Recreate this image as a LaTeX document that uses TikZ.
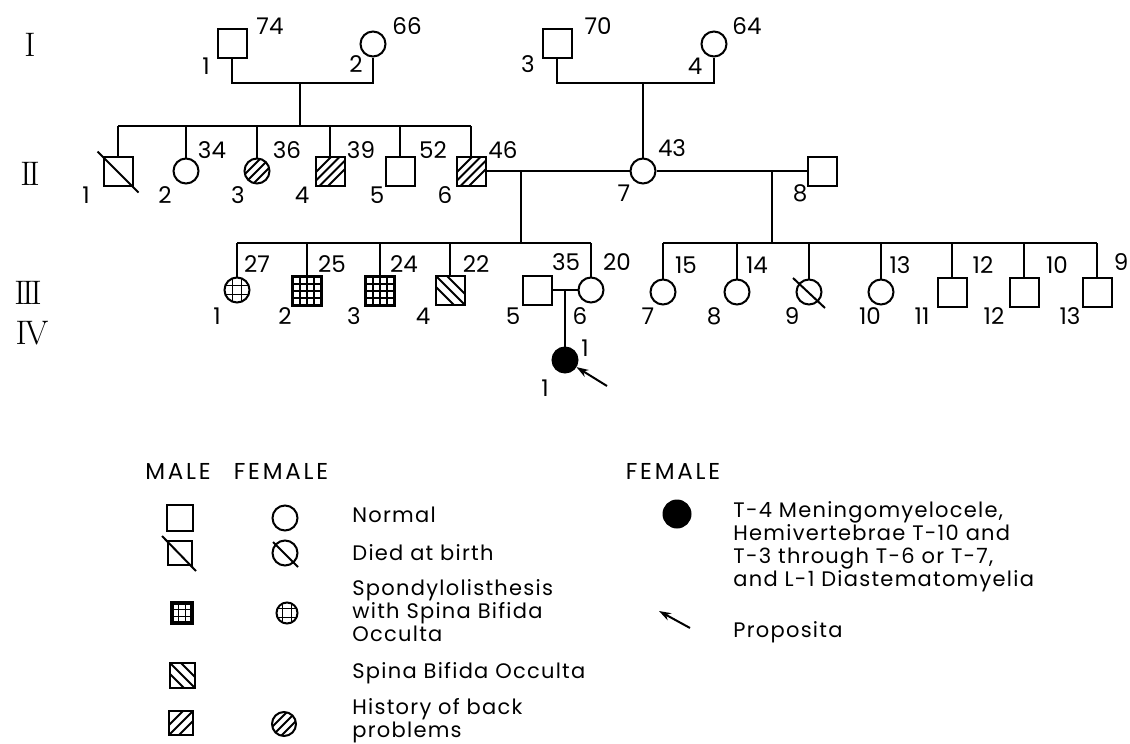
\documentclass[tikz,border=0pt]{standalone}
\usepackage{fontspec}
\newfontfamily\pops{Poppins}
\newfontfamily\popsls{Poppins}[LetterSpace=6]
\newfontfamily\popshd{Poppins}[LetterSpace=12]
\usetikzlibrary{arrows.meta,calc}

\tikzset{
  pline/.style={line width=1pt},
  male/.style={draw, line width=1pt, rectangle, minimum size=14.5pt, inner sep=0pt},
  female/.style={draw, line width=1pt, circle, minimum size=12.5pt, inner sep=0pt},
  affected/.style={female, fill=black},
  % hatching inside a symbol
  fwdhatch/.style={path picture={
      \foreach \k in {#1}
        \draw[line width=0.9pt] ($(path picture bounding box.center)+(\k-20,20)$) -- ++(40,-40);}},
  fwdhatch/.default={-13,-4.5,4.5,13},
  bkhatch/.style={path picture={
      \foreach \k in {-11,0,11}
        \draw[line width=0.9pt] ($(path picture bounding box.center)+(\k-20,-20)$) -- ++(40,40);}},
  gridfill/.style={path picture={
      \foreach \k in {#1} {
        \draw[line width=0.8pt] ([xshift=\k*0.5pt]path picture bounding box.north) -- ([xshift=\k*0.5pt]path picture bounding box.south);
        \draw[line width=0.8pt] ([yshift=\k*0.5pt]path picture bounding box.west) -- ([yshift=\k*0.5pt]path picture bounding box.east);
      }}},
  gridfill/.default={-7,0,7},
  malefwd/.style={male, fwdhatch},
  femalefwd/.style={female, fwdhatch={-9,0,9}},
  malebk/.style={male, bkhatch},
  malegrid/.style={male, line width=1.6pt, gridfill},
  femalegrid/.style={female, gridfill={-4.5,4.5}},
  numlbl/.style={font=\pops\fontsize{11.5}{12}\selectfont, inner sep=0pt},
  genlbl/.style={font=\fontsize{17}{17}\selectfont, inner sep=0pt},
  lghead/.style={font=\popshd\fontsize{11.5}{12}\selectfont, inner sep=0pt},
  lgtext/.style={font=\popsls\fontsize{10.5}{11.5}\selectfont, anchor=west, align=left, inner sep=0pt},
  protip/.style={-{Stealth[length=6pt,width=4pt]}}
}

\begin{document}
\begin{tikzpicture}[x=0.5pt, y=-0.5pt]
\useasboundingbox (0,0) rectangle (1130,744);

% Generations
\node[genlbl] (g1) at (30,45) {I};
\node[genlbl] (g2) at (30,174) {I\kern-1.5pt I};
\node[genlbl] (g3) at (28,293) {I\kern-1.5pt I\kern-1.5pt I};
\node[genlbl] (g4) at (32,333) {I\kern-1pt V};

% Individuals
\foreach \nm/\st/\x/\y in {I1/male/232/43, I2/female/373/44, I3/male/557/43, I4/female/714/44,
    II1/male/118/171, II2/female/186/171, II3/femalefwd/257/171, II4/malefwd/330/171,
    II5/male/400/171, II6/malefwd/471/171, II7/female/643/171, II8/male/822/171,
    III1/femalegrid/237/290, III2/malegrid/307/291, III3/malegrid/380/291, III4/malebk/450/290,
    III5/male/537/290, III6/female/591/290, III7/female/663/292, III8/female/737/292,
    III9/female/809/292, III10/female/881/292, III11/male/952/292, III12/male/1024/292,
    III13/male/1097/292, IV1/affected/565/360}
  \node[\st] (\nm) at (\x,\y) {};

% Died at birth
\draw[pline] ($(II1.north west)+(-5,-4)$) -- ($(II1.south east)+(5,6)$);
\draw[pline] ($(III9)+(-16,-14)$) -- ($(III9)+(16,16)$);

% Ages
\foreach \nm/\x/\y/\t in {I1/270/26/74, I2/407/26/66, I3/598/26/70, I4/747/26/64,
    II2/212/150/34, II3/287/150/36, II4/361/150/39, II5/433/150/52, II6/503/150/46, II7/672/148/43,
    III1/257/264/27, III2/332/264/25, III3/404/264/24, III4/476/264/22, III5/566/262/35,
    III6/617/262/20, III7/686/265/15, III8/757/265/14, III10/900/265/13, III11/983/265/12,
    III12/1057/265/10, III13/1121/262/9, IV1/585/348/1}
  \node[numlbl] (a-\nm) at (\x,\y) {\t};

% Numbers within generation
\foreach \nm/\x/\y/\t in {I1/206/66/1, I2/356/64/2, I3/528/64/3, I4/695/66/4,
    II1/86/195/1, II2/165/195/2, II3/238/195/3, II4/302/195/4, II5/377/195/5, II6/445/195/6,
    II7/624/193/7, II8/800/193/8,
    III1/217/316/1, III2/285/316/2, III3/354/316/3, III4/423/316/4, III5/513/316/5,
    III6/580/316/6, III7/648/316/7, III8/714/316/8, III9/792/316/9, III10/870/316/10,
    III11/922/316/11, III12/994/316/12, III13/1070/316/13, IV1/545/388/1}
  \node[numlbl] (n-\nm) at (\x,\y) {\t};

% Matings and sibships
\coordinate (m12) at (300,83);
\coordinate (s2) at (300,126);
\draw[pline] (I1.south) |- (m12) -| (I2.south);
\draw[pline] (m12) -- (s2);
\draw[pline] (II1.north |- s2) -- (II6.north |- s2);
\foreach \c in {II1,II2,II3,II4,II5,II6}
  \draw[pline] (\c.north) -- (\c.north |- s2);

\coordinate (m34) at (643,83);
\draw[pline] (I3.south) |- (m34) -| (I4.south);
\draw[pline] (m34) -- (II7.north);

\draw[pline] (II6.east) -- (II7.west);
\draw[pline] (II7.east) -- (II8.west);

\coordinate (m67) at (521,171);
\coordinate (s3a) at (521,243);
\draw[pline] (m67) -- (s3a);
\draw[pline] (III1.north |- s3a) -- (III6.north |- s3a);
\foreach \c in {III1,III2,III3,III4,III6}
  \draw[pline] (\c.north) -- (\c.north |- s3a);

\coordinate (m78) at (772,171);
\coordinate (s3b) at (772,243);
\draw[pline] (m78) -- (s3b);
\draw[pline] (III7.north |- s3b) -- (III13.north |- s3b);
\foreach \c in {III7,III8,III9,III10,III11,III12,III13}
  \draw[pline] (\c.north) -- (\c.north |- s3b);

\coordinate (m56) at (565,290);
\draw[pline] (III5.east) -- (III6.west);
\draw[pline] (m56) -- (IV1.north);

% Proposita
\coordinate (pro) at (607,386);
\draw[pline, protip] (pro) -- (IV1);

% Legend
\node[lghead] (h-male) at (178,471) {MALE};
\node[lghead] (h-female) at (281,471) {FEMALE};
\node[lghead] (h-female2) at (673,471) {FEMALE};

\node[male, minimum size=13pt] (lgM1) at (180,518) {};
\node[female] (lgF1) at (285,518) {};
\node[male, minimum size=12pt] (lgM2) at (180,553) {};
\node[female] (lgF2) at (285,553) {};
\draw[pline] ($(lgM2.north west)+(-5,-4)$) -- ($(lgM2.south east)+(3,5)$);
\draw[pline] ($(lgF2)+(-12,-11)$) -- ($(lgF2)+(13,14)$);
\node[malegrid, minimum size=10pt, gridfill={-3.5,3.5}] (lgM3) at (182,613) {};
\node[femalegrid, minimum size=10.5pt] (lgF3) at (287,613) {};
\node[malebk, minimum size=12.5pt] (lgM4) at (182,675) {};
\node[male, fwdhatch={-10,0,10}, minimum size=12pt] (lgM5) at (181,723) {};
\node[femalefwd, minimum size=12pt] (lgF5) at (284,724) {};
\node[affected, minimum size=13.5pt] (lgF6) at (677,514) {};

\node[lgtext] (t-normal) at (352,515) {Normal};
\node[lgtext] (t-died) at (352,553) {Died at birth};
\node[lgtext] (t-spondy) at (352,611) {Spondylolisthesis\\with Spina Bifida\\Occulta};
\node[lgtext] (t-sbo) at (352,673) {Spina Bifida Occulta};
\node[lgtext] (t-hist) at (352,721) {History of back\\problems};
\node[lgtext] (t-mening) at (733,547) {T-4 Meningomyelocele,\\Hemivertebrae T-10 and\\T-3 through T-6 or T-7,\\and L-1 Diastematomyelia};
\node[lgtext] (t-prop) at (733,632) {Proposita};

\coordinate (lgA) at (690,628);
\coordinate (lgB) at (659,611);
\draw[pline, protip] (lgA) -- (lgB);
\end{tikzpicture}
\end{document}
